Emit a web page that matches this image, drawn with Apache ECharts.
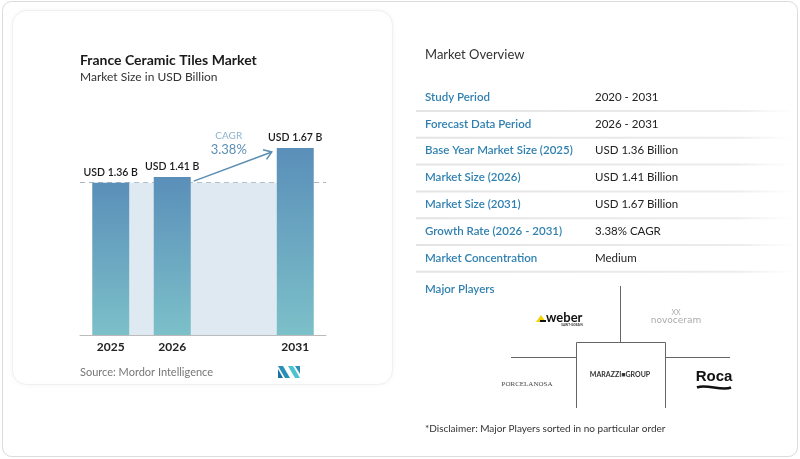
<!DOCTYPE html>
<html>
<head>
<meta charset="utf-8">
<script src="https://cdn.jsdelivr.net/npm/echarts@6/dist/echarts.min.js"></script>
<style>
html,body{margin:0;padding:0;background:#fff;}
#main{width:800px;height:459px;}
</style>
</head>
<body>
<div id="main"></div>
<script>
const categories = ['2025', '2026', '', '2031'];
const values = [1.36, 1.41, null, 1.67];
const valueLabels = ['USD 1.36 B', 'USD 1.41 B', '', 'USD 1.67 B'];
const cagrTitle = 'CAGR';
const cagrValue = '3.38%';
const chartTitle = 'France Ceramic Tiles Market';
const chartSubtitle = 'Market Size in USD Billion';
const sourceText = 'Source: Mordor Intelligence';
const overviewTitle = 'Market Overview';
const overviewLabels = ['Study Period', 'Forecast Data Period', 'Base Year Market Size (2025)', 'Market Size (2026)', 'Market Size (2031)', 'Growth Rate (2026 - 2031)', 'Market Concentration'];
const overviewValues = ['2020 - 2031', '2026 - 2031', 'USD 1.36 Billion', 'USD 1.41 Billion', 'USD 1.67 Billion', '3.38% CAGR', 'Medium'];
const playersTitle = 'Major Players';
const disclaimer = '*Disclaimer: Major Players sorted in no particular order';

const FONT = 'Lato, "Noto Sans", sans-serif';
const BAR_W = 37;

const chart = echarts.init(document.getElementById('main'), null, {renderer: 'canvas'});

const graphics = [];
graphics.push({type: 'rect', z: -10, shape: {x: 2.5, y: 1.5, width: 795, height: 455, r: 9}, style: {fill: '#fff', stroke: '#dcdcdc', lineWidth: 1}});
graphics.push({type: 'rect', z: -9, shape: {x: 12.5, y: 10.5, width: 380, height: 374, r: 14}, style: {fill: '#fff', stroke: '#f0f0f0', lineWidth: 1, shadowBlur: 6, shadowColor: 'rgba(0,0,0,0.04)'}});
graphics.push({type: 'text', x: 80, y: 60, style: {text: chartTitle, font: 'bold 14px ' + FONT, fill: '#1a1a1a', verticalAlign: 'middle'}});
graphics.push({type: 'text', x: 80, y: 77, style: {text: chartSubtitle, font: '12px ' + FONT, fill: '#333', verticalAlign: 'middle'}});
graphics.push({type: 'text', x: 80, y: 372, style: {text: sourceText, font: '11px ' + FONT, fill: '#777', verticalAlign: 'middle'}});
graphics.push({type: 'polygon', shape: {points: [[278, 366], [283, 366], [290, 378], [285, 378]]}, style: {fill: '#2a8fb8'}});
graphics.push({type: 'polygon', shape: {points: [[278, 369], [283, 378], [278, 378]]}, style: {fill: '#1c6f9e'}});
graphics.push({type: 'polygon', shape: {points: [[288, 366], [293, 366], [300, 378], [295, 378]]}, style: {fill: '#4cc3d0'}});
graphics.push({type: 'polygon', shape: {points: [[295, 366], [300, 366], [300, 374]]}, style: {fill: '#2a8fb8'}});

graphics.push({type: 'text', x: 425, y: 55, style: {text: overviewTitle, font: '13px ' + FONT, fill: '#333', verticalAlign: 'middle'}});
const rowY0 = 97, rowStep = 26.8;
overviewLabels.forEach((lab, i) => {
  const y = rowY0 + i * rowStep;
  graphics.push({type: 'text', x: 425, y: y, style: {text: lab, font: '600 11.5px ' + FONT, fill: '#2f80b0', verticalAlign: 'middle'}});
  graphics.push({type: 'text', x: 595, y: y, style: {text: overviewValues[i], font: '11.5px ' + FONT, fill: '#222', verticalAlign: 'middle'}});
  graphics.push({type: 'line', shape: {x1: 416, y1: y + 14, x2: 792, y2: y + 14}, style: {lineWidth: 2, stroke: {type: 'linear', x: 0, y: 0, x2: 1, y2: 0, colorStops: [{offset: 0, color: '#e4e4e4'}, {offset: 0.85, color: '#ececec'}, {offset: 1, color: 'rgba(240,240,240,0)'}]}}});
});
graphics.push({type: 'text', x: 425, y: 289, style: {text: playersTitle, font: '600 11.5px ' + FONT, fill: '#2f80b0', verticalAlign: 'middle'}});
const lc = '#666';
graphics.push({type: 'line', shape: {x1: 620.5, y1: 286, x2: 620.5, y2: 343}, style: {stroke: lc, lineWidth: 1}});
graphics.push({type: 'polyline', shape: {points: [[576.5, 408], [576.5, 342.5], [665.5, 342.5], [665.5, 408]]}, style: {stroke: lc, lineWidth: 1, fill: null}});
graphics.push({type: 'line', shape: {x1: 511, y1: 357.5, x2: 576, y2: 357.5}, style: {stroke: lc, lineWidth: 1}});
graphics.push({type: 'line', shape: {x1: 665, y1: 357.5, x2: 730, y2: 357.5}, style: {stroke: lc, lineWidth: 1}});
graphics.push({type: 'polygon', shape: {points: [[536, 322], [541, 315], [546, 322]]}, style: {fill: '#f2d200'}});
graphics.push({type: 'rect', shape: {x: 540, y: 320, width: 6, height: 2}, style: {fill: '#111'}});
graphics.push({type: 'text', x: 546, y: 318, style: {text: 'weber', font: 'bold 13px ' + FONT, fill: '#111', verticalAlign: 'middle'}});
graphics.push({type: 'text', x: 572, y: 325.5, style: {text: 'SAINT-GOBAIN', font: 'bold 3px ' + FONT, fill: '#333', align: 'center', verticalAlign: 'middle'}});
graphics.push({type: 'text', x: 676, y: 313, style: {text: 'XX', font: '7px ' + FONT, fill: '#aaa', align: 'center', verticalAlign: 'middle'}});
graphics.push({type: 'text', x: 676, y: 321, style: {text: 'novoceram', font: '9px "DejaVu Sans", sans-serif', fill: '#aaa', align: 'center', verticalAlign: 'middle'}});
graphics.push({type: 'text', x: 527, y: 384, style: {text: 'PORCELANOSA', font: '7px "Liberation Serif", serif', fill: '#444', align: 'center', verticalAlign: 'middle'}});
graphics.push({type: 'text', x: 620, y: 375, style: {text: 'MARAZZI\u25A0GROUP', font: 'bold 7px ' + FONT, fill: '#333', align: 'center', verticalAlign: 'middle'}});
graphics.push({type: 'text', x: 714, y: 377, style: {text: 'Roca', font: 'bold 15px "Liberation Sans", sans-serif', fill: '#111', align: 'center', verticalAlign: 'middle'}});
graphics.push({type: 'bezierCurve', shape: {x1: 697, y1: 387.5, x2: 731, y2: 387.5, cpx1: 706, cpy1: 383.5, cpx2: 722, cpy2: 391.5}, style: {stroke: '#111', lineWidth: 2.5, fill: null}});
graphics.push({type: 'text', x: 425, y: 429, style: {text: disclaimer, font: '10px ' + FONT, fill: '#333', verticalAlign: 'middle'}});

const option = {
  animation: false,
  backgroundColor: '#fff',
  grid: {left: 80, right: 474, top: 111, bottom: 124, containLabel: false},
  xAxis: {
    type: 'category',
    data: categories,
    axisLine: {show: true, lineStyle: {color: '#bbb', width: 1}},
    axisTick: {show: false},
    axisLabel: {color: '#222', fontSize: 12, fontWeight: 'bold', fontFamily: FONT, margin: 6}
  },
  yAxis: {type: 'value', min: 0, max: 2, show: false, splitLine: {show: false}},
  graphic: graphics,
  series: [
    {
      type: 'custom',
      z: 1,
      silent: true,
      data: [[0, values[0]]],
      renderItem: function (params, api) {
        const a = api.coord([0, values[0]]);
        const b = api.coord([3, 0]);
        const x0 = a[0] + BAR_W / 2, x1 = b[0] - BAR_W / 2;
        return {type: 'rect', shape: {x: x0, y: a[1], width: x1 - x0, height: b[1] - a[1]}, style: {fill: '#dfe9f1'}};
      }
    },
    {
      type: 'bar',
      z: 2,
      data: values,
      barWidth: BAR_W,
      itemStyle: {
        color: {type: 'linear', x: 0, y: 0, x2: 0, y2: 1, colorStops: [{offset: 0, color: '#5a8fb9'}, {offset: 1, color: '#7cc0c9'}]}
      },
      label: {
        show: true, position: 'top', distance: 5,
        formatter: p => valueLabels[p.dataIndex],
        color: '#1a1a1a', fontSize: 10.5, fontWeight: 600, fontFamily: FONT
      },
      markLine: {
        silent: true, symbol: 'none', z: 1,
        label: {show: false},
        lineStyle: {color: '#a9b4bb', type: [5, 4], width: 1},
        data: [{yAxis: values[0]}]
      }
    },
    {
      type: 'custom',
      z: 5,
      silent: true,
      data: [[1, values[1]]],
      renderItem: function (params, api) {
        const s = api.coord([1, values[1]]);
        const e = api.coord([3, values[3]]);
        const x0 = s[0] + BAR_W / 2 + 3, y0 = s[1] + 4;
        const x1 = e[0] - BAR_W / 2 - 5, y1 = e[1] + 4;
        const ang = Math.atan2(y1 - y0, x1 - x0);
        const L = 9, spread = 0.6;
        const h1 = [x1 - L * Math.cos(ang - spread), y1 - L * Math.sin(ang - spread)];
        const h2 = [x1 - L * Math.cos(ang + spread), y1 - L * Math.sin(ang + spread)];
        const mx = (x0 + x1) / 2, my = (y0 + y1) / 2;
        const col = '#5b8db0';
        return {type: 'group', children: [
          {type: 'line', shape: {x1: x0, y1: y0, x2: x1, y2: y1}, style: {stroke: col, lineWidth: 1.5}},
          {type: 'polyline', shape: {points: [h1, [x1, y1], h2]}, style: {stroke: col, lineWidth: 1.5, fill: null}},
          {type: 'text', x: mx - 4, y: my - 31, style: {text: cagrTitle, font: '10px ' + FONT, fill: '#8db3cc', align: 'center', verticalAlign: 'middle'}},
          {type: 'text', x: mx - 4, y: my - 17, style: {text: cagrValue, font: '13px ' + FONT, fill: '#5b8fb3', align: 'center', verticalAlign: 'middle'}}
        ]};
      }
    }
  ]
};
chart.setOption(option);
</script>
</body>
</html>
